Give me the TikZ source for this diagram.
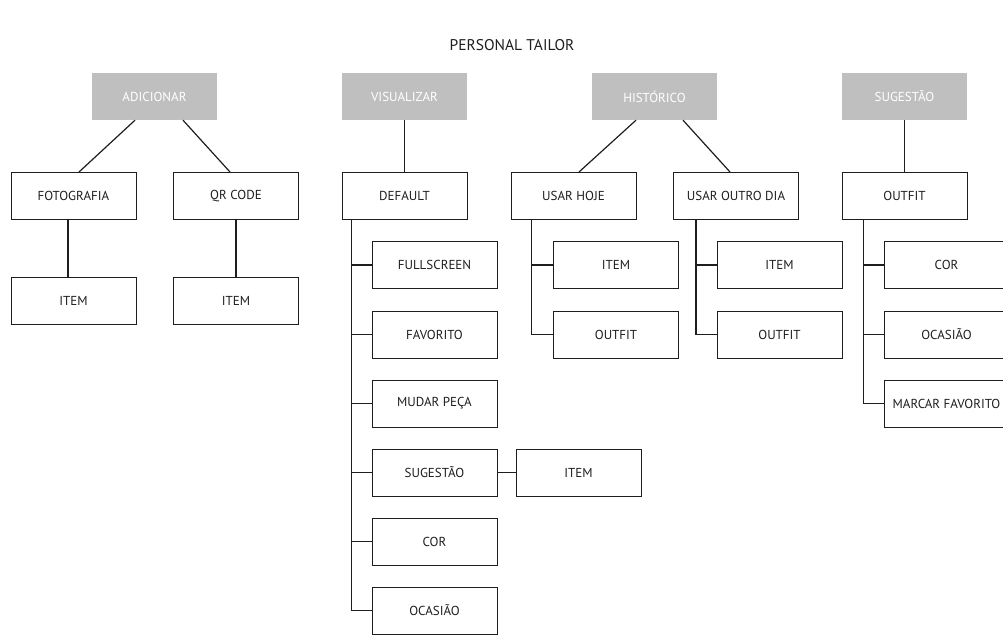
\documentclass[tikz,border=0pt]{standalone}
\usepackage{fontspec}
\setmainfont{PT Sans}
\definecolor{headgray}{HTML}{BFBFBF}
\definecolor{txt}{HTML}{1E1E1E}
\begin{document}
\begin{tikzpicture}[x=1pt,y=-1pt,
  box/.style={draw=txt,line width=1pt,minimum width=125pt,minimum height=47pt,inner sep=0pt,font=\fontsize{13}{15}\selectfont,text=txt},
  head/.style={fill=headgray,minimum width=125pt,minimum height=47pt,inner sep=0pt,font=\fontsize{13}{15}\selectfont,text=white},
  link/.style={draw=txt,line width=1.2pt}]
\useasboundingbox (0,0) rectangle (1003,634);
\clip (0,0) rectangle (1003,634);
\node[font=\fontsize{15.5}{18}\selectfont,text=txt] (title) at (512,45) {PERSONAL TAILOR};
% ADICIONAR
\node[head] (add) at (154.5,96.5) {ADICIONAR};
\node[box] (foto) at (73.5,196) {FOTOGRAFIA};
\node[box] (qr) at (236,196) {QR CODE};
\node[box] (item1) at (73.5,301) {ITEM};
\node[box] (item2) at (236,301) {ITEM};
\draw[link] ([xshift=-19.5pt]add.south) -- ([xshift=5.5pt]foto.north);
\draw[link] ([xshift=28.5pt]add.south) -- ([xshift=-6pt]qr.north);
\draw[link] ([xshift=-5.5pt]foto.south) -- ([xshift=-5.5pt]item1.north);
\draw[link] (qr.south) -- (item2.north);
% VISUALIZAR
\node[head] (vis) at (404.5,96.5) {VISUALIZAR};
\node[box] (def) at (404.5,196) {DEFAULT};
\node[box] (full) at (434.5,265) {FULLSCREEN};
\node[box] (fav) at (434.5,334.5) {FAVORITO};
\node[box] (mud) at (434.5,403.5) {MUDAR PEÇA};
\node[box] (sug) at (434.5,472.5) {SUGESTÃO};
\node[box] (sugitem) at (578.5,472.5) {ITEM};
\node[box] (cor) at (434.5,541.5) {COR};
\node[box] (oca) at (434.5,610.5) {OCASIÃO};
\draw[link] (vis.south) -- (def.north);
\foreach \n in {full,fav,mud,sug,cor,oca}
  \draw[link] ([xshift=10pt]def.south west) |- (\n.west);
\draw[link] (sug.east) -- (sugitem.west);
% HISTORICO
\node[head] (hist) at (654.5,96.5) {HISTÓRICO};
\node[box] (hoje) at (573.5,196) {USAR HOJE};
\node[box] (hitem) at (616,265) {ITEM};
\node[box] (hout) at (616,334.5) {OUTFIT};
\node[box] (outro) at (736,196) {USAR OUTRO DIA};
\node[box] (oitem) at (779.5,265) {ITEM};
\node[box] (oout) at (779.5,334.5) {OUTFIT};
\draw[link] ([xshift=-18.5pt]hist.south) -- ([xshift=5.5pt]hoje.north);
\draw[link] ([xshift=28.5pt]hist.south) -- ([xshift=-6pt]outro.north);
\foreach \n in {hitem,hout}
  \draw[link] ([xshift=21pt]hoje.south west) |- (\n.west);
\foreach \n in {oitem,oout}
  \draw[link] ([xshift=23pt]outro.south west) |- (\n.west);
% SUGESTAO
\node[head] (sgt) at (904.5,96.5) {SUGESTÃO};
\node[box] (sout) at (904.5,196) {OUTFIT};
\node[box] (scor) at (946.5,265) {COR};
\node[box] (soca) at (946.5,334.5) {OCASIÃO};
\node[box] (smar) at (946.5,403.5) {MARCAR FAVORITO};
\draw[link] (sgt.south) -- (sout.north);
\foreach \n in {scor,soca,smar}
  \draw[link] ([xshift=22pt]sout.south west) |- (\n.west);
\end{tikzpicture}
\end{document}
